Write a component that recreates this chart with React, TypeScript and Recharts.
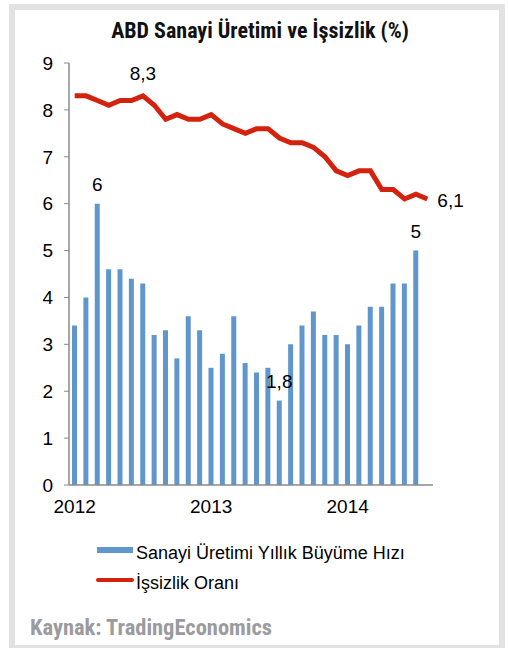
import React from 'react';
import { ComposedChart, Bar, Line, XAxis, YAxis, LabelList } from 'recharts';

// Ocak 2012 - Ağustos 2014, aylık
const months = [
  '2012-01', '2012-02', '2012-03', '2012-04', '2012-05', '2012-06', '2012-07', '2012-08',
  '2012-09', '2012-10', '2012-11', '2012-12', '2013-01', '2013-02', '2013-03', '2013-04',
  '2013-05', '2013-06', '2013-07', '2013-08', '2013-09', '2013-10', '2013-11', '2013-12',
  '2014-01', '2014-02', '2014-03', '2014-04', '2014-05', '2014-06', '2014-07', '2014-08',
];

const production = [
  3.4, 4.0, 6.0, 4.6, 4.6, 4.4, 4.3, 3.2, 3.3, 2.7, 3.6, 3.3, 2.5, 2.8, 3.6, 2.6,
  2.4, 2.5, 1.8, 3.0, 3.4, 3.7, 3.2, 3.2, 3.0, 3.4, 3.8, 3.8, 4.3, 4.3, 5.0, null,
];

const unemployment = [
  8.3, 8.3, 8.2, 8.1, 8.2, 8.2, 8.3, 8.1, 7.8, 7.9, 7.8, 7.8, 7.9, 7.7, 7.6, 7.5,
  7.6, 7.6, 7.4, 7.3, 7.3, 7.2, 7.0, 6.7, 6.6, 6.7, 6.7, 6.3, 6.3, 6.1, 6.2, 6.1,
];

const yTicks = [0, 1, 2, 3, 4, 5, 6, 7, 8, 9];
const yearTicks = [0, 12, 24];
const yearLabels = ['2012', '2013', '2014'];
// ay sınırlarındaki küçük çentikler
const monthEdges = months.map((_, i) => i - 0.5).concat([months.length - 0.5]);

const barLabelIdx = [2, 18, 30];
const lineLabelIdx = [6, 31];

const BLUE = '#5f97cd';
const RED = '#d3230f';
const FONT = "'Liberation Sans', Arial, sans-serif";
const NARROW = "'Liberation Sans Narrow', 'Roboto Condensed', 'Liberation Sans', sans-serif";

const data = months.map((m, i) => ({
  idx: i,
  month: m,
  production: production[i],
  unemployment: unemployment[i],
}));

const fmt = (v: number) => String(v).replace('.', ',');

const BarLabel = (props: any) => {
  const { x, y, width, index, value } = props;
  if (!barLabelIdx.includes(index) || value == null) return null;
  return (
    <text x={x + width / 2} y={y - 13} textAnchor="middle" fontSize={19} fontFamily={FONT} fill="#000">
      {fmt(value)}
    </text>
  );
};

const LineLabel = (props: any) => {
  const { x, y, index, value } = props;
  if (!lineLabelIdx.includes(index)) return null;
  const isEnd = index === lineLabelIdx[1];
  return (
    <text
      x={isEnd ? x + 10 : x}
      y={isEnd ? y + 8 : y - 16}
      textAnchor={isEnd ? 'start' : 'middle'}
      fontSize={19}
      fontFamily={FONT}
      fill="#000"
    >
      {fmt(value)}
    </text>
  );
};

export default function App() {
  return (
    <div style={{ position: 'absolute', left: 0, top: 0, width: 508, height: 648, background: '#fff', overflow: 'hidden' }}>
      <div
        style={{
          position: 'absolute', left: 9, top: 4, width: 496, height: 647,
          border: '6px solid #e2e2e2', boxSizing: 'border-box',
        }}
      />
      <div
        style={{
          position: 'absolute', left: 0, width: 520, top: 18, textAlign: 'center',
          fontFamily: NARROW, fontWeight: 'bold', fontSize: 22, color: '#111',
        }}
      >
        ABD Sanayi Üretimi ve İşsizlik (%)
      </div>

      <ComposedChart
        width={508}
        height={648}
        data={data}
        margin={{ top: 63, right: 75, bottom: 125, left: 0 }}
        style={{ position: 'absolute', left: 0, top: 0 }}
      >
        <YAxis
          width={69}
          domain={[0, 9]}
          ticks={yTicks}
          interval={0}
          axisLine={{ stroke: '#8a8a8a', strokeWidth: 1.5 }}
          tickLine={{ stroke: '#8a8a8a' }}
          tickSize={5}
          tickMargin={11}
          tick={{ fontSize: 19, fontFamily: FONT, fill: '#000' }}
        />
        <XAxis
          xAxisId="months"
          dataKey="idx"
          type="number"
          domain={[-0.5, months.length - 0.5]}
          ticks={monthEdges}
          interval={0}
          height={8}
          tick={false}
          tickSize={4}
          axisLine={{ stroke: '#8a8a8a', strokeWidth: 1.5 }}
          tickLine={{ stroke: '#8a8a8a' }}
        />
        <XAxis
          xAxisId="years"
          dataKey="idx"
          type="number"
          domain={[-0.5, months.length - 0.5]}
          ticks={yearTicks}
          interval={0}
          height={30}
          axisLine={false}
          tickLine={false}
          tickSize={0}
          tickMargin={7}
          tickFormatter={(v: number) => yearLabels[yearTicks.indexOf(v)]}
          tick={{ fontSize: 19, fontFamily: FONT, fill: '#000' }}
        />
        <Bar xAxisId="months" dataKey="production" fill={BLUE} barSize={5} isAnimationActive={false}>
          <LabelList dataKey="production" content={<BarLabel />} />
        </Bar>
        <Line
          xAxisId="months"
          dataKey="unemployment"
          type="linear"
          stroke={RED}
          strokeWidth={5}
          dot={false}
          activeDot={false}
          isAnimationActive={false}
        >
          <LabelList dataKey="unemployment" content={<LineLabel />} />
        </Line>
      </ComposedChart>

      <div style={{ position: 'absolute', left: 97, top: 547, width: 36, height: 6, background: BLUE }} />
      <div
        style={{
          position: 'absolute', left: 136, top: 542, fontFamily: FONT, fontSize: 18,
          lineHeight: '22px', color: '#000', whiteSpace: 'nowrap',
        }}
      >
        Sanayi Üretimi Yıllık Büyüme Hızı
      </div>
      <div style={{ position: 'absolute', left: 96, top: 578, width: 38, height: 4, borderRadius: 2, background: RED }} />
      <div
        style={{
          position: 'absolute', left: 136, top: 572, fontFamily: FONT, fontSize: 18,
          lineHeight: '22px', color: '#000', whiteSpace: 'nowrap',
        }}
      >
        İşsizlik Oranı
      </div>

      <div
        style={{
          position: 'absolute', left: 30, top: 614, fontFamily: NARROW, fontWeight: 'bold',
          fontSize: 22.5, color: '#9b9b9f', whiteSpace: 'nowrap',
        }}
      >
        Kaynak: TradingEconomics
      </div>
    </div>
  );
}
